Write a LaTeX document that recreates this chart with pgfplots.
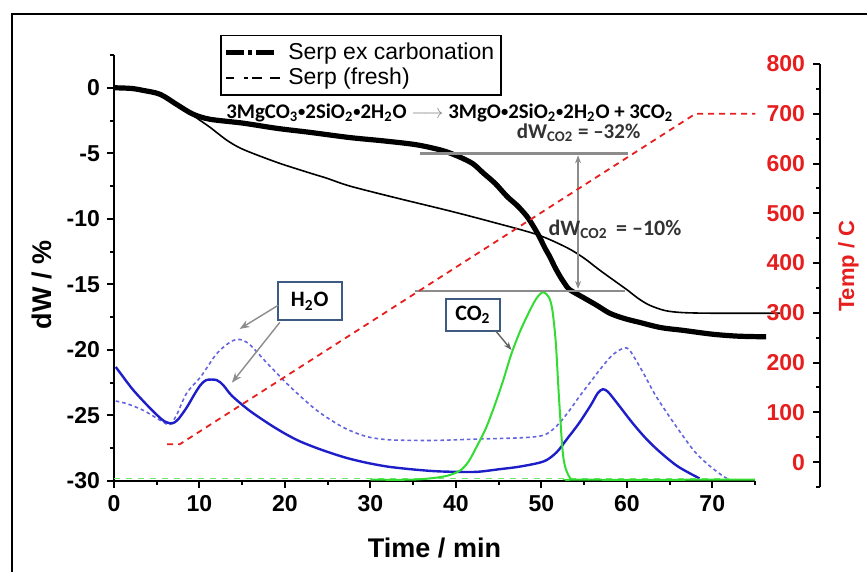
\documentclass[border=0pt]{standalone}
\usepackage{fontspec}
\setmainfont{Liberation Sans}
\newfontfamily\calibri{Carlito}
\usepackage{pgfplots}
\pgfplotsset{compat=1.18}
\usetikzlibrary{arrows.meta}

\definecolor{tempred}{RGB}{230,30,30}
\definecolor{msblue}{RGB}{30,30,200}
\definecolor{msblue2}{RGB}{100,100,225}
\definecolor{msgreen}{RGB}{50,220,50}
\definecolor{annogray}{RGB}{140,140,140}
\definecolor{boxblue}{RGB}{60,90,130}
\newcommand{\bul}{\raisebox{0.12ex}{\scalebox{0.7}{•}}}

\begin{document}
\begin{tikzpicture}
\useasboundingbox (-57pt,-45.5pt) rectangle (376.5pt,240.5pt);
\draw[line width=1.3pt] (-51pt,-60pt) -- (-51pt,233.5pt) -- (390pt,233.5pt);

% mass loss + MS signals (left axis)
\begin{axis}[
    at={(0,0)}, anchor=south west,
    scale only axis, width=320.5pt, height=213pt,
    xmin=0, xmax=75, ymin=-30, ymax=2.5,
    axis x line=bottom, axis y line=left,
    axis line style={-, line width=1pt},
    tick align=outside, major tick length=3.5pt, minor tick length=2pt,
    every tick/.style={black, line width=1pt},
    xtick={0,10,...,70}, minor xtick={5,15,...,75},
    ytick={-30,-25,...,0}, minor ytick={-27.5,-22.5,...,2.5},
    ticklabel style={font=\fontsize{11.5}{13}\selectfont\bfseries},
    /pgf/number format/assume math mode=true,
    xlabel={Time / min}, ylabel={dW / \%},
    xlabel style={font=\fontsize{13.5}{15}\selectfont\bfseries, at={(rel axis cs:0.5,0)}, anchor=north, yshift=-25pt},
    ylabel style={font=\fontsize{13.5}{15}\selectfont\bfseries, at={(rel axis cs:0,0.46)}, anchor=south, yshift=27.5pt},
    legend style={at={(axis cs:12.4,4.05)}, anchor=north west, draw=black, line width=0.9pt,
        font=\fontsize{11.5}{13}\selectfont, inner sep=1.5pt, row sep=-1pt, cells={anchor=west}},
    legend image code/.code={\draw[#1] (0pt,0pt) -- (28pt,0pt);},
    clip=false,
]
\addlegendimage{black, line width=2.2pt, dash pattern=on 9pt off 2pt on 2pt off 2pt on 9pt}
\addlegendentry{Serp ex carbonation}
\addlegendimage{black, line width=0.9pt, dash pattern=on 4pt off 5pt on 2pt off 2pt on 5pt}
\addlegendentry{Serp (fresh)}

% MS H2O, fresh (dotted)
\addplot[forget plot, msblue2, line width=0.8pt, dash pattern=on 1.8pt off 1.5pt, smooth] coordinates {
 (0.2,-23.9)(1.5,-24.1)(3.4,-24.6)(5.5,-25.4)(6.5,-25.7)(7.3,-25.0)(8.5,-23.3)
 (10.2,-22.0)(12.0,-20.3)(13.6,-19.4)(14.7,-19.2)(15.9,-19.6)(17.9,-21.0)(20.6,-22.8)
 (23.7,-24.6)(26.8,-25.9)(29.5,-26.6)(32,-26.85)(34.7,-26.9)(38,-26.9)(42.5,-26.8)
 (47.7,-26.7)(50.3,-26.5)(51.8,-25.8)(53.2,-24.7)(54.4,-23.6)(55.8,-22.4)(57.1,-21.3)
 (58.3,-20.4)(59.5,-19.9)(60.3,-20.0)(61.8,-21.6)(63.3,-23.4)(64.9,-25.0)(66.5,-26.5)
 (68.0,-27.8)(69.6,-28.8)(71.2,-29.6)(72.0,-29.9)
};
% MS H2O, ex carbonation (solid)
\addplot[forget plot, msblue, line width=1.2pt, smooth] coordinates {
 (0.2,-21.3)(1,-22.0)(2.3,-23.1)(4.3,-24.5)(5.8,-25.4)(6.8,-25.6)(7.5,-25.3)(8.5,-24.4)
 (9.4,-23.4)(10.1,-22.7)(10.8,-22.3)(12.0,-22.3)(12.8,-22.7)(13.8,-23.5)(16,-24.7)
 (19.0,-26.0)(21.5,-26.9)(24.2,-27.6)(27,-28.2)(29.5,-28.6)(32,-28.9)(34.7,-29.1)
 (37.5,-29.25)(39.9,-29.3)(42.5,-29.3)(45.1,-29.1)(47.5,-28.9)(50.3,-28.5)(51.8,-27.8)
 (53,-26.8)(54.4,-25.6)(55.8,-24.2)(56.6,-23.3)(57.2,-23.0)(57.8,-23.2)(58.8,-24.0)
 (60.7,-25.6)(62.3,-26.8)(63.9,-27.8)(66,-28.9)(68.5,-29.8)
};
% MS CO2
\addplot[forget plot, msgreen!70, line width=0.8pt, dash pattern=on 3pt off 3pt] coordinates {
 (0,-29.8)(72,-29.8)
};
\addplot[forget plot, msgreen, line width=1pt, smooth] coordinates {
 (30,-29.9)(34.7,-29.9)(37,-29.8)(39,-29.6)(40.5,-29.2)(41.5,-28.5)(42.5,-27.3)(43.5,-26.0)
 (44.5,-24.3)(45.5,-22.4)(46.5,-20.3)(47.5,-18.6)(48.5,-17.2)(49.4,-16.1)(50.2,-15.6)
 (50.9,-16.0)(51.3,-17.0)(51.7,-19.5)(52.1,-24.0)(52.6,-28.3)(53.4,-29.8)(54.5,-29.9)(75,-29.9)
};
% TG fresh
\addplot[forget plot, black, line width=0.8pt, smooth] coordinates {
 (0,0)(2,-0.05)(3.4,-0.2)(5.4,-0.5)(7.4,-1.3)(9.2,-2.1)(11.2,-3.0)(13.2,-4.0)(15.1,-4.7)
 (19.1,-5.7)(22.9,-6.5)(24.9,-6.9)(27.6,-7.5)(33,-8.4)(39.3,-9.4)(44,-10.2)(49.5,-11.2)
 (53.0,-12.2)(55,-13.0)(56.8,-13.9)(58.5,-14.7)(60.0,-15.4)(61.4,-16.1)(62.7,-16.6)
 (64.5,-17.0)(66.5,-17.15)(70,-17.2)(77.9,-17.2)
};
% TG ex carbonation
\addplot[forget plot, black, line width=2.6pt, smooth] coordinates {
 (0,0)(2,-0.05)(3.4,-0.2)(5.4,-0.5)(7.4,-1.3)(9.2,-2.0)(11.2,-2.4)(15.1,-2.7)(19.1,-3.1)
 (22.9,-3.4)(27.6,-3.8)(31.5,-4.05)(35.4,-4.35)(38.5,-4.8)(40.5,-5.3)(42,-5.8)(43.2,-6.5)
 (44.6,-7.3)(46.0,-8.3)(47.2,-9.0)(48.3,-9.8)(49.1,-10.6)(49.8,-11.4)(50.4,-12.2)
 (51.0,-12.9)(51.6,-13.7)(52.2,-14.4)(52.8,-15.0)(53.3,-15.4)(54.9,-16.0)(56.5,-16.6)
 (58.0,-17.2)(59.7,-17.6)(61.5,-17.9)(64,-18.3)(66.5,-18.5)(70,-18.8)(73,-18.95)(76.3,-19.0)
};

% annotations
\draw[annogray, line width=1.3pt] (axis cs:35.8,-5) -- (axis cs:60.1,-5);
\draw[annogray, line width=1.3pt] (axis cs:35.2,-15.5) -- (axis cs:59.8,-15.5);
\draw[annogray, line width=0.6pt, {Stealth[length=4pt]}-{Stealth[length=4pt]}] (axis cs:54.3,-5.15) -- (axis cs:54.3,-15.35);
\node[anchor=west, font=\calibri\fontsize{10.4}{12}\selectfont\bfseries, inner sep=0pt] at (axis cs:13.1,-1.9)
  {3MgCO\textsubscript{3}\bul2SiO\textsubscript{2}\bul2H\textsubscript{2}O \textcolor{annogray}{$\longrightarrow$} 3MgO\bul2SiO\textsubscript{2}\bul2H\textsubscript{2}O + 3CO\textsubscript{2}};
\node[anchor=west, font=\calibri\fontsize{10.5}{12}\selectfont\bfseries, inner sep=0pt, text=black!80] at (axis cs:47.1,-3.4)
  {dW\textsubscript{CO2} = \textendash32\%};
\node[anchor=west, font=\calibri\fontsize{11}{12}\selectfont\bfseries, inner sep=0pt, text=black!80] at (axis cs:50.8,-10.8)
  {dW\textsubscript{CO2} \,= \textendash10\%};
\node[draw=boxblue, line width=1pt, fill=white, minimum width=32pt, minimum height=19pt, inner sep=1pt,
  font=\calibri\fontsize{11}{12}\selectfont\bfseries] at (axis cs:22.9,-16.3) {H\textsubscript{2}O};
\node[draw=boxblue, line width=1pt, fill=white, minimum width=27pt, minimum height=16pt, inner sep=1pt,
  font=\calibri\fontsize{11}{12}\selectfont\bfseries] at (axis cs:42.0,-17.3) {CO\textsubscript{2}};
\draw[annogray, line width=0.7pt, -{Stealth[length=5pt]}] (axis cs:19.2,-16.6) -- (axis cs:14.7,-18.4);
\draw[annogray, line width=0.7pt, -{Stealth[length=5pt]}] (axis cs:19.4,-17.9) -- (axis cs:13.8,-22.5);
\draw[annogray!70!black, line width=0.7pt, -{Stealth[length=4pt]}] (axis cs:44.6,-18.5) -- (axis cs:46.5,-20.0);
\end{axis}

% temperature (right axis)
\begin{axis}[
    at={(0,-3pt)}, anchor=south west,
    scale only axis, width=353pt, height=211.5pt,
    xmin=0, xmax=82.57, ymin=-50, ymax=800,
    axis x line=none, axis y line=right,
    axis line style={-, line width=1pt},
    tick align=inside, major tick length=3.5pt, minor tick length=2pt,
    every tick/.style={black, line width=1pt},
    ytick={0,100,...,800}, minor ytick={-50,50,...,750},
    yticklabel style={font=\fontsize{11.5}{13}\selectfont\bfseries, text=tempred, anchor=east, xshift=-4pt},
    /pgf/number format/assume math mode=true,
    ylabel={Temp / C},
    ylabel style={font=\fontsize{11}{13}\selectfont\bfseries, text=tempred, at={(rel axis cs:1,0.522)}, anchor=north, yshift=-5.5pt},
]
\addplot[tempred, line width=0.9pt, dash pattern=on 3pt off 2.5pt] coordinates {
 (6.2,36)(7.7,36)(68.0,700)(75,700)
};
\end{axis}
\end{tikzpicture}
\end{document}
